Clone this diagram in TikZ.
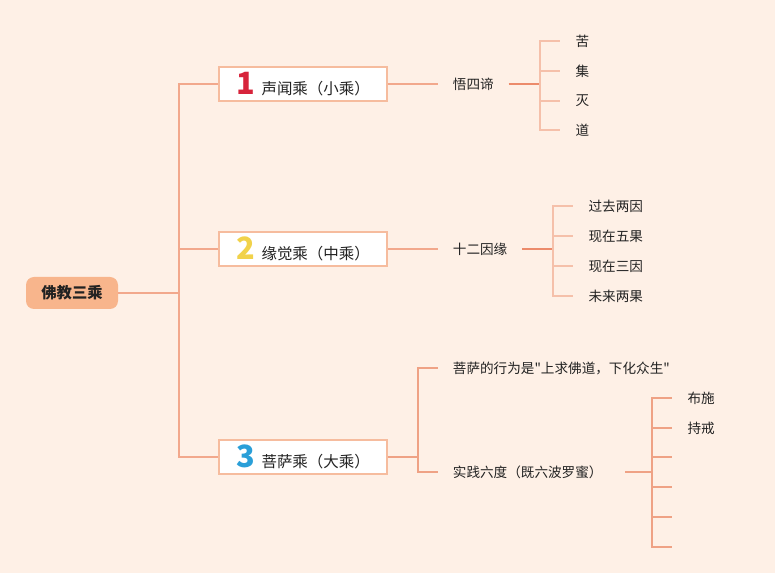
\documentclass[tikz,border=0pt]{standalone}
\usepackage{fontspec}
\setmainfont{Noto Sans CJK SC}
\newfontfamily\plainq{Noto Sans CJK SC}
\newcommand{\sq}{{\plainq\symbol{34}}}
\definecolor{bg}{HTML}{FEF0E6}
\definecolor{rootfill}{HTML}{F8B58C}
\definecolor{boxline}{HTML}{F6BC9E}
\definecolor{lineA}{HTML}{F2A88C}
\definecolor{lineB}{HTML}{F5C0AA}
\definecolor{lineD}{HTML}{EC8B6B}
\definecolor{lineM}{HTML}{EFA285}
\definecolor{txt}{HTML}{222222}
\definecolor{nred}{HTML}{D7243B}
\definecolor{nyel}{HTML}{F1D24A}
\definecolor{nblu}{HTML}{2A9FD8}
\newcommand{\bignum}[2]{{\fontsize{23}{23}\selectfont\bfseries\color{#1}#2}}
\tikzset{
  rootbox/.style={fill=rootfill, rounded corners=6pt, minimum width=69pt, minimum height=24pt, inner sep=0pt, font=\fontsize{11.5}{12}\selectfont\bfseries, text=txt},
  lvbox/.style={draw=boxline, line width=1.2pt, fill=white, minimum width=126pt, minimum height=25.5pt, inner sep=0pt, font=\fontsize{11.6}{12}\selectfont, text=txt},
  midtxt/.style={anchor=west, inner xsep=11pt, inner ysep=0pt, font=\fontsize{10.2}{11}\selectfont, text=txt},
  leaf/.style={anchor=west, inner xsep=11.5pt, inner ysep=0pt, font=\fontsize{10.2}{11}\selectfont, text=txt},
  connA/.style={draw=lineA, line width=0.9pt},
  connB/.style={draw=lineB, line width=0.9pt},
  connD/.style={draw=lineD, line width=1pt},
  connM/.style={draw=lineM, line width=0.9pt}
}
\begin{document}
\begin{tikzpicture}[x=0.75pt,y=-0.75pt]
\fill[bg] (0,0) rectangle (775,573);
\useasboundingbox (0,0) rectangle (775,573);

% root and level-1
\node[rootbox] (r) at (72,293) {佛教三乘};
\node[lvbox] (b1) at (303,84) {\bignum{nred}{1}\hspace{5pt}声闻乘（小乘）};
\node[lvbox] (b2) at (303,249) {\bignum{nyel}{2}\hspace{5pt}缘觉乘（中乘）};
\node[lvbox] (b3) at (303,457) {\bignum{nblu}{3}\hspace{5pt}菩萨乘（大乘）};
\coordinate (trunk) at (179,293);
\draw[connA] (r.east) -- (trunk);
\draw[connA] (trunk) |- (b1.west);
\draw[connA] (trunk) |- (b2.west);
\draw[connA] (trunk) |- (b3.west);

% branch 1
\node[midtxt] (m1) at (438,84) {悟四谛};
\draw[connA] (b1.east) -- (m1.west);
\coordinate (j1) at (540,84);
\draw[connD] (m1.east) -- (j1);
\node[leaf] (l11) at (560,41) {苦};
\node[leaf] (l12) at (560,71) {集};
\node[leaf] (l13) at (560,101) {灭};
\node[leaf] (l14) at (560,130) {道};
\draw[connB] (j1) |- (l11.west);
\draw[connB] (j1) |- (l12.west);
\draw[connB] (j1) |- (l13.west);
\draw[connB] (j1) |- (l14.west);

% branch 2
\node[midtxt] (m2) at (438,249) {十二因缘};
\draw[connA] (b2.east) -- (m2.west);
\coordinate (j2) at (553,249);
\draw[connD] (m2.east) -- (j2);
\node[leaf] (l21) at (573,206) {过去两因};
\node[leaf] (l22) at (573,236) {现在五果};
\node[leaf] (l23) at (573,266) {现在三因};
\node[leaf] (l24) at (573,296) {未来两果};
\draw[connB] (j2) |- (l21.west);
\draw[connB] (j2) |- (l22.west);
\draw[connB] (j2) |- (l23.west);
\draw[connB] (j2) |- (l24.west);

% branch 3
\coordinate (j3) at (418,457);
\draw[connM] (b3.east) -- (j3);
\node[midtxt] (m31) at (438,368) {菩萨的行为是\sq 上求佛道，下化众生\sq};
\node[midtxt] (m32) at (438,472) {实践六度（既六波罗蜜）};
\draw[connM] (j3) |- (m31.west);
\draw[connM] (j3) |- (m32.west);
\coordinate (j4) at (652,472);
\draw[connM] ([xshift=6pt]m32.east) -- (j4);
\node[leaf] (l41) at (672,398) {布施};
\node[leaf] (l42) at (672,428) {持戒};
\coordinate (l43) at (672,457);
\coordinate (l44) at (672,487);
\coordinate (l45) at (672,517);
\coordinate (l46) at (672,547);
\draw[connM] (j4) |- (l41.west);
\draw[connM] (j4) |- (l42.west);
\draw[connM] (j4) |- (l43);
\draw[connM] (j4) |- (l44);
\draw[connM] (j4) |- (l45);
\draw[connM] (j4) |- (l46);
\end{tikzpicture}
\end{document}
